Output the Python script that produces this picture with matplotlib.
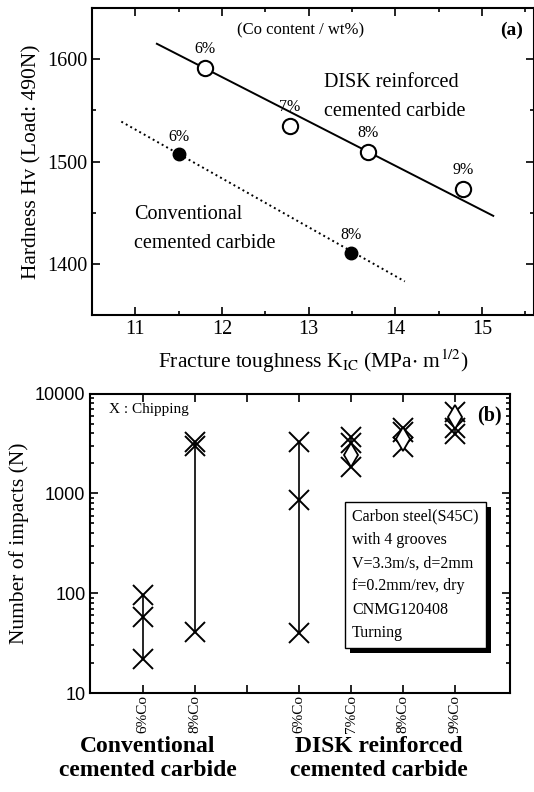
import numpy as np
import matplotlib
matplotlib.use('Agg')
from matplotlib import pyplot as plt
from matplotlib import transforms
from matplotlib.patches import Rectangle

plt.rcParams['font.family'] = ['Liberation Serif', 'DejaVu Serif']
plt.rcParams['mathtext.fontset'] = 'stix'

# (a) hardness vs fracture toughness
disk_k = [11.8, 12.78, 13.68, 14.78]
disk_hv = [1591, 1535, 1509, 1473]
disk_co = ['6%', '7%', '8%', '9%']
disk_line_k = [11.25, 15.13]
disk_line_hv = [1615, 1447]

conv_k = [11.5, 13.49]
conv_hv = [1507, 1411]
conv_co = ['6%', '8%']
conv_line_k = [10.84, 14.11]
conv_line_hv = [1539, 1383]

# (b) number of impacts until chipping
positions = [1, 2, 3, 4, 5, 6, 7]
tick_labels = ['6%Co', '8%Co', '', '6%Co', '7%Co', '8%Co', '9%Co']
chip_pos = [1, 1, 1, 2, 2, 2, 4, 4, 4, 5, 5, 5, 6, 6, 6, 7, 7, 7]
chip_n = [96, 58, 22, 3250, 3000, 41, 3300, 850, 40,
          3700, 3200, 1860, 4500, 4100, 2900, 6600, 4500, 3900]
diamond_pos = [5, 6, 7]
diamond_n = [2450, 3500, 5800]
range_pos = [1, 2, 4, 5, 6, 7]
range_lo = [22, 41, 40, 1860, 2900, 3900]
range_hi = [96, 3250, 3300, 3700, 4500, 6600]

fig = plt.figure(figsize=(5.34, 7.92), dpi=100)

ax1 = fig.add_axes([0.172, 0.602, 0.828, 0.388])
ax1.plot(disk_line_k, disk_line_hv, '-', color='black', lw=1.4)
ax1.plot(conv_line_k, conv_line_hv, ':', color='black', lw=1.4)
ax1.plot(disk_k, disk_hv, 'o', ms=11, mfc='white', mec='black', mew=1.5)
ax1.plot(conv_k, conv_hv, 'o', ms=9, mfc='black', mec='black')
for k, hv, s in zip(disk_k, disk_hv, disk_co):
    ax1.annotate(s, (k, hv), xytext=(0, 8), textcoords='offset points',
                 ha='center', va='bottom', fontsize=11.5)
for k, hv, s in zip(conv_k, conv_hv, conv_co):
    ax1.annotate(s, (k, hv), xytext=(0, 7), textcoords='offset points',
                 ha='center', va='bottom', fontsize=11.5)
ax1.text(12.17, 1628, '(Co content / wt%)', fontsize=12, va='center')
ax1.text(15.47, 1628, '(a)', fontsize=14, fontweight='bold', ha='right', va='center')
ax1.text(13.18, 1563, 'DISK reinforced\ncemented carbide', fontsize=14.5,
         va='center', linespacing=1.7)
ax1.text(10.99, 1434, 'Conventional\ncemented carbide', fontsize=14.5,
         va='center', linespacing=1.7)
ax1.set_xlim(10.5, 15.6)
ax1.set_ylim(1350, 1650)
ax1.set_xticks([11, 12, 13, 14, 15])
ax1.set_xticks(np.arange(10.5, 15.6, 0.5), minor=True)
ax1.set_yticks([1400, 1500, 1600])
ax1.set_yticks([1350, 1450, 1550, 1650], minor=True)
ax1.tick_params(which='both', direction='in', top=True, right=True, labelsize=14.5, width=1.2)
ax1.tick_params(which='major', length=6)
ax1.tick_params(which='minor', length=3)
ax1.set_xlabel(r'Fracture toughness K$_{\rm IC}$ (MPa$\cdot$ m$^{1/2}$)', fontsize=15.5, labelpad=6)
ax1.set_ylabel('Hardness Hv (Load: 490N)', fontsize=15.5, labelpad=4)
for sp in ax1.spines.values():
    sp.set_linewidth(1.5)

ax2 = fig.add_axes([0.169, 0.125, 0.786, 0.378])
ax2.set_yscale('log')
ax2.vlines(range_pos, range_lo, range_hi, color='black', lw=1.2)
ax2.plot(chip_pos, chip_n, 'x', ms=14, mew=1.4, color='black')
ax2.plot(diamond_pos, diamond_n, 'd', ms=12, mfc='white', mec='black', mew=1.3)
ax2.set_xlim(-0.02, 8.06)
ax2.set_ylim(10, 10000)
ax2.set_xticks(positions)
ax2.set_xticklabels(tick_labels, rotation=90, fontsize=11)
ax2.tick_params(which='both', direction='in', top=True, right=True, width=1.2)
ax2.tick_params(which='major', length=6)
ax2.tick_params(which='minor', length=3)
ax2.tick_params(axis='x', pad=1.5)
ax2.set_yticks([10, 100, 1000, 10000])
ax2.set_yticklabels(['10', '100', '1000', '10000'], family='Liberation Sans', fontsize=13)
ax2.set_ylabel('Number of impacts (N)', fontsize=15.5, labelpad=4)
for sp in ax2.spines.values():
    sp.set_linewidth(1.5)
ax2.text(0.35, 7000, 'X : Chipping', fontsize=11, va='center')
ax2.text(7.9, 6000, '(b)', fontsize=14.5, fontweight='bold', ha='right', va='center')

box_text = ('Carbon steel(S45C)\nwith 4 grooves\nV=3.3m/s, d=2mm\n'
            'f=0.2mm/rev, dry\nCNMG120408\nTurning')
box = ax2.text(5.02, 700, box_text, fontsize=11.5, va='top', ha='left', linespacing=1.6,
               zorder=4, bbox=dict(boxstyle='square,pad=0.45', fc='white', ec='black', lw=1))

fig.canvas.draw()
bb = box.get_bbox_patch().get_window_extent()
ax2.add_patch(Rectangle((bb.x0 + 5, bb.y0 - 5), bb.width, bb.height, fc='black', ec='none',
                        transform=transforms.IdentityTransform(), clip_on=False, zorder=3.5))

fig.text(0.277, 0.042, 'Conventional\ncemented carbide', fontsize=17, fontweight='bold',
         ha='center', va='center', linespacing=1.2)
fig.text(0.71, 0.042, 'DISK reinforced\ncemented carbide', fontsize=17, fontweight='bold',
         ha='center', va='center', linespacing=1.2)

fig.savefig('out.png', dpi=100)
